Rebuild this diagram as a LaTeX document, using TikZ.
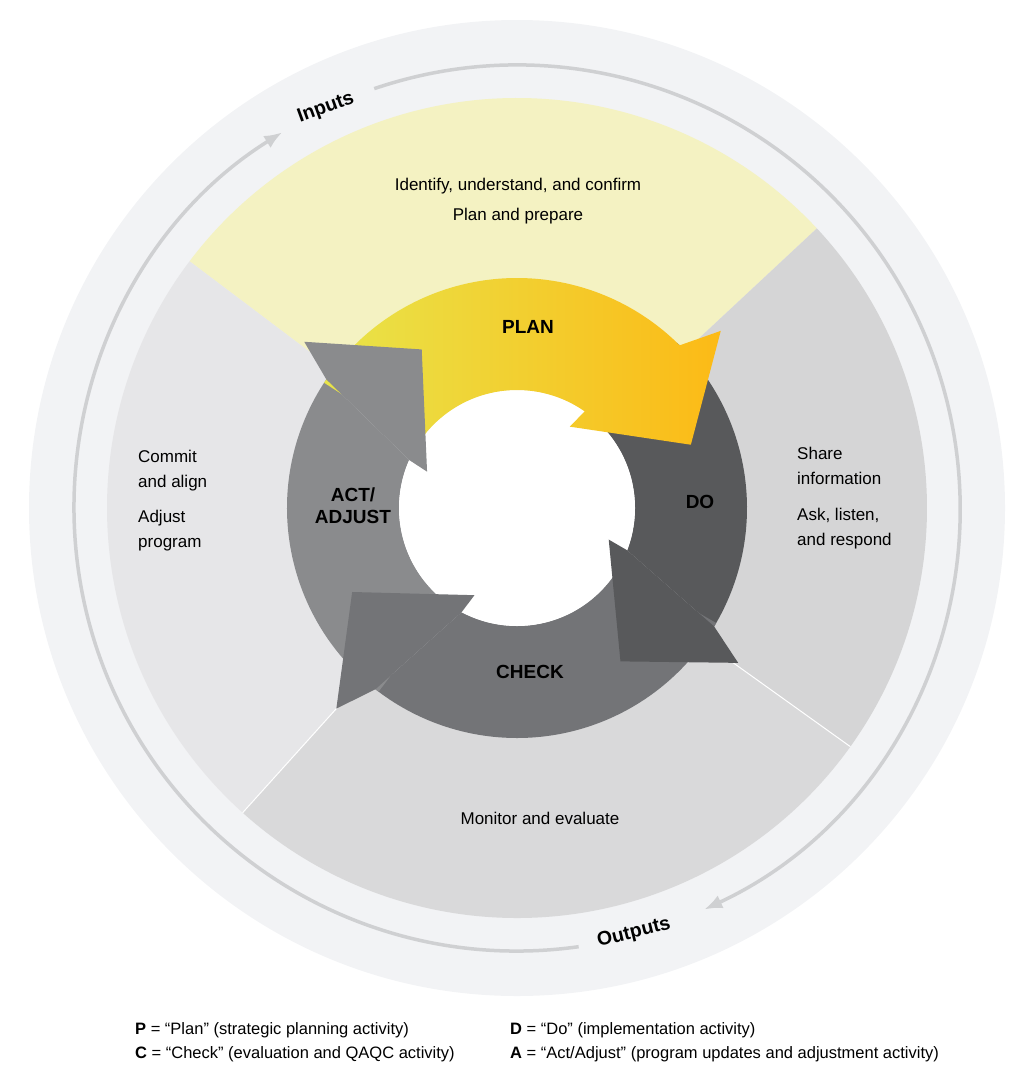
\documentclass[tikz,border=0pt]{standalone}
\usepackage{fontspec}
\setmainfont{Liberation Sans}
\usetikzlibrary{arrows.meta}
\definecolor{outerbg}{HTML}{F2F3F5}
\definecolor{ringline}{HTML}{CFD0D2}
\definecolor{plansec}{HTML}{F4F2C2}
\definecolor{dosec}{HTML}{D5D5D6}
\definecolor{checksec}{HTML}{D9D9DA}
\definecolor{actsec}{HTML}{E6E6E8}
\definecolor{doarr}{HTML}{58595B}
\definecolor{checkarr}{HTML}{737477}
\definecolor{actarr}{HTML}{8A8B8D}
\tikzset{
  bodytext/.style={font=\fontsize{17}{25}\selectfont, inner sep=0pt},
  steplabel/.style={font=\fontsize{19}{22}\selectfont\bfseries, inner sep=0pt, align=center},
  ringlabel/.style={font=\fontsize{19.5}{22}\selectfont\bfseries, inner sep=0pt},
  legendtext/.style={font=\fontsize{16.5}{19}\selectfont, inner sep=0pt, anchor=west}
}
% arrow body: colour, start angle, head angle
\newcommand\pdcabody[3]{\fill[#1] (#2:230pt) arc[start angle=#2, end angle=#3+4, radius=230pt] -- ({#3+14}:118pt) arc[start angle=#3+14, end angle=#2, radius=118pt] -- cycle;}
% arrow head: colour, head angle
\newcommand\pdcahead[2]{\fill[#1] ({#2+4}:230pt) -- (#2:270pt) -- ({#2-21}:185pt) -- ({#2+16}:97pt) -- ({#2+14}:118pt) -- cycle;}
\begin{document}
\begin{tikzpicture}[x=1pt, y=1pt]
\useasboundingbox (0,0) rectangle (1028,-1071);
\begin{scope}[shift={(517pt,-508pt)}]
% backgrounds
\fill[outerbg] (0,0) circle (488pt);
\fill[plansec] (0,0) -- (43:410pt) arc[start angle=43, end angle=143, radius=410pt] -- cycle;
\fill[dosec] (0,0) -- (-35.6:410pt) arc[start angle=-35.6, end angle=43, radius=410pt] -- cycle;
\fill[checksec] (0,0) -- (-132:410pt) arc[start angle=-132, end angle=-35.6, radius=410pt] -- cycle;
\fill[actsec] (0,0) -- (143:410pt) arc[start angle=143, end angle=228, radius=410pt] -- cycle;
\draw[white, line width=1pt] (0,0) -- (-35.6:410pt);
\draw[white, line width=1pt] (0,0) -- (-132:410pt);
% outer cycle
\draw[ringline, line width=3.5pt, -{Latex[length=18pt, width=14pt]}] (108.8:443pt) arc[start angle=108.8, end angle=-65, radius=443pt];
\draw[ringline, line width=3.5pt, -{Latex[length=18pt, width=14pt]}] (-82:443pt) arc[start angle=-82, end angle=-238, radius=443pt];
% arrows
\pdcabody{doarr}{46}{-35}
\pdcabody{checkarr}{-30}{-132}
\pdcabody{actarr}{233}{142}
\fill[white] (0,0) circle (118pt);
\shade[left color={rgb,255:red,232;green,228;blue,74}, right color={rgb,255:red,252;green,186;blue,22}]
  (147:230pt) arc[start angle=147, end angle=45, radius=230pt] -- (41:270pt) -- (20:185pt) -- (57:97pt) -- (55:118pt) arc[start angle=55, end angle=147, radius=118pt] -- cycle;
\pdcahead{doarr}{-35}
\pdcahead{checkarr}{-132}
\pdcahead{actarr}{142}
\end{scope}
% labels
\node[steplabel] (plan) at (528,-327) {PLAN};
\node[steplabel] (do) at (700,-502) {DO};
\node[steplabel] (check) at (530,-672) {CHECK};
\node[steplabel] (act) at (353,-506) {ACT/\\ADJUST};
\node[bodytext] (identify) at (518,-186) {Identify, understand, and confirm};
\node[bodytext] (prepare) at (518,-216) {Plan and prepare};
\node[bodytext, anchor=north west, align=left] (commit) at (138,-450) {Commit\\and align};
\node[bodytext, anchor=north west, align=left] (adjust) at (138,-510) {Adjust\\program};
\node[bodytext, anchor=north west, align=left] (share) at (797,-447) {Share\\information};
\node[bodytext, anchor=north west, align=left] (ask) at (797,-508) {Ask, listen,\\and respond};
\node[bodytext] (monitor) at (540,-818) {Monitor and evaluate};
\node[ringlabel, rotate=20] (inputs) at (326,-108) {Inputs};
\node[ringlabel, rotate=14] (outputs) at (634,-933) {Outputs};
% legend
\node[legendtext] (legp) at (135,-1030) {\textbf{P} = “Plan” (strategic planning activity)};
\node[legendtext] (legc) at (135,-1054) {\textbf{C} = “Check” (evaluation and QAQC activity)};
\node[legendtext] (legd) at (510,-1030) {\textbf{D} = “Do” (implementation activity)};
\node[legendtext] (lega) at (510,-1054) {\textbf{A} = “Act/Adjust” (program updates and adjustment activity)};
\end{tikzpicture}
\end{document}
